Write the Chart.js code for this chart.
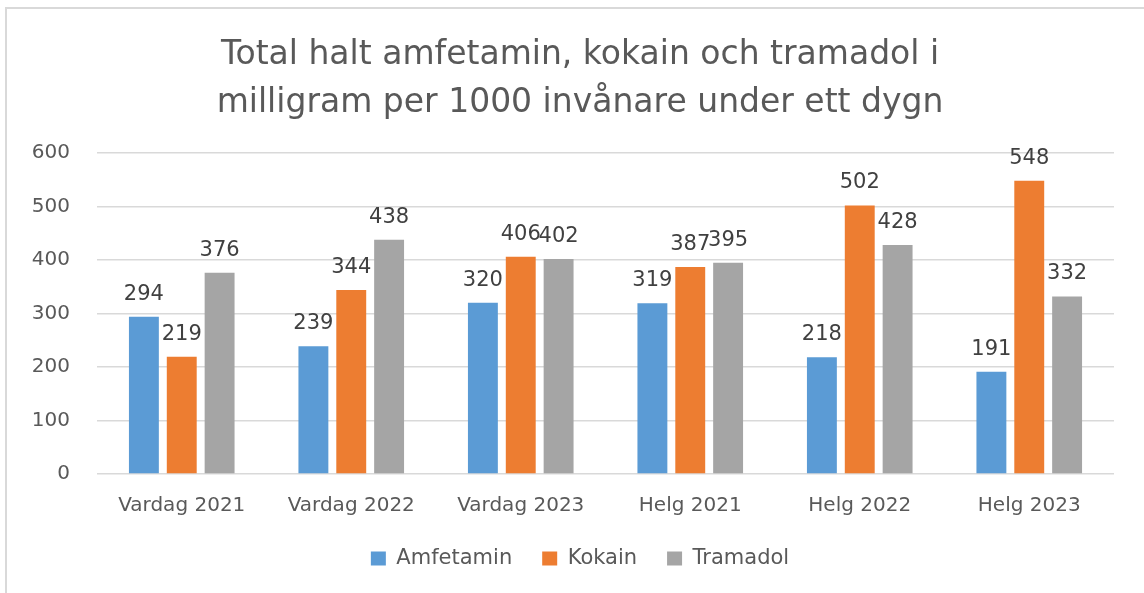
<!DOCTYPE html>
<html>
<head>
<meta charset="utf-8">
<script src="https://cdn.jsdelivr.net/npm/chart.js@4"></script>
<style>
  html, body { margin: 0; padding: 0; background: #fff; }
  #wrap { position: relative; width: 1144px; height: 593px; }
  #frame { position: absolute; left: 5px; top: 7px; right: -4px; bottom: -4px;
           border-left: 2px solid #d9d9d9; border-top: 2px solid #d9d9d9; }
  canvas { position: absolute; left: 0; top: 0; }
</style>
</head>
<body>
<div id="wrap">
  <div id="frame"></div>
  <canvas id="c" width="1144" height="593"></canvas>
</div>
<script>
const categories = ["Vardag 2021", "Vardag 2022", "Vardag 2023", "Helg 2021", "Helg 2022", "Helg 2023"];
const amfetamin = [294, 239, 320, 319, 218, 191];
const kokain    = [219, 344, 406, 387, 502, 548];
const tramadol  = [376, 438, 402, 395, 428, 332];
const yTicks = [0, 100, 200, 300, 400, 500, 600];
const titleLines = ["Total halt amfetamin, kokain och tramadol i", "milligram per 1000 invånare under ett dygn"];

const FONT = "'DejaVu Sans', sans-serif";
const TXT = "#595959";

const labelPlugin = {
  id: "barLabels",
  afterDatasetsDraw(chart) {
    const ctx = chart.ctx;
    ctx.save();
    ctx.font = "21px " + FONT;
    ctx.fillStyle = "#404040";
    ctx.textAlign = "center";
    ctx.textBaseline = "alphabetic";
    chart.data.datasets.forEach((ds, i) => {
      const meta = chart.getDatasetMeta(i);
      meta.data.forEach((bar, j) => {
        ctx.fillText(String(ds.data[j]), bar.x, bar.y - 17);
      });
    });
    ctx.restore();
  }
};

new Chart(document.getElementById("c"), {
  type: "bar",
  data: {
    labels: categories,
    datasets: [
      { label: "Amfetamin", data: amfetamin, backgroundColor: "#5B9BD5" },
      { label: "Kokain", data: kokain, backgroundColor: "#ED7D31" },
      { label: "Tramadol", data: tramadol, backgroundColor: "#A5A5A5" }
    ]
  },
  options: {
    responsive: false,
    animation: false,
    layout: { padding: { left: 24, right: 8, top: 31, bottom: 14 } },
    datasets: { bar: { categoryPercentage: 0.67, barPercentage: 0.79 } },
    plugins: {
      title: {
        display: true,
        text: titleLines,
        color: TXT,
        font: { family: FONT, size: 33, weight: "normal", lineHeight: 48 / 33 },
        padding: { top: 0, bottom: 26 }
      },
      legend: {
        position: "bottom",
        labels: {
          color: TXT,
          font: { family: FONT, size: 21 },
          boxWidth: 15, boxHeight: 14,
          padding: 30
        }
      },
      tooltip: { enabled: false }
    },
    scales: {
      x: {
        grid: { display: false, drawTicks: false },
        border: { display: false },
        ticks: { color: TXT, font: { family: FONT, size: 20 }, padding: 20 },
        afterFit(axis) { axis.height = 44; }
      },
      y: {
        min: 0, max: 600,
        afterBuildTicks(axis) { axis.ticks = yTicks.map(v => ({ value: v })); },
        grid: { color: "#d9d9d9", lineWidth: 1.5, drawTicks: false },
        border: { display: false },
        ticks: { color: TXT, font: { family: FONT, size: 20 }, padding: 27 },
        afterFit(axis) { axis.width = 73; }
      },
      yRightSpace: {
        position: "right",
        display: true,
        grid: { display: false, drawTicks: false },
        border: { display: false },
        ticks: { display: false },
        afterFit(axis) { axis.width = 22; }
      }
    }
  },
  plugins: [labelPlugin]
});
</script>
</body>
</html>
